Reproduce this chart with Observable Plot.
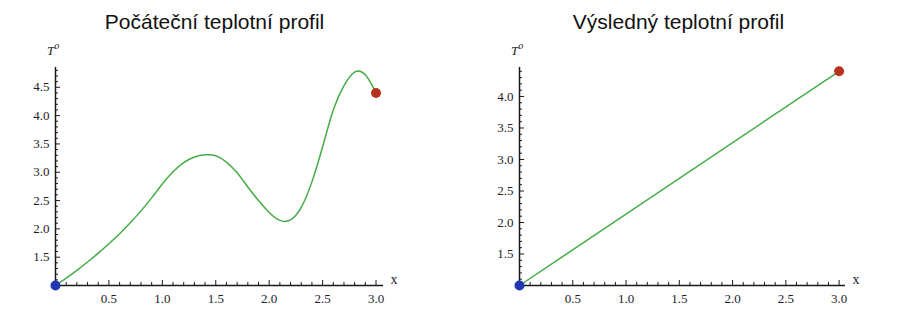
<!DOCTYPE html>
<html><head><meta charset="utf-8">
<script src="https://cdn.jsdelivr.net/npm/d3@7"></script>
<script src="https://cdn.jsdelivr.net/npm/@observablehq/plot@0.6"></script>
<style>
body{margin:0;background:#fff;}
#wrap{position:relative;width:900px;height:320px;overflow:hidden;background:#fff;}
.title{position:absolute;top:10px;line-height:24px;font-family:"Liberation Sans",Arial,sans-serif;font-size:21px;color:#111;transform:translateX(-50%);white-space:nowrap;}
.tlab{position:absolute;top:40px;font-family:"Liberation Serif","Times New Roman",serif;font-size:13px;font-style:italic;color:#222;line-height:14px;}
.tlab sup{font-size:10px;position:relative;top:-1px;}
.panel{position:absolute;top:40px;}
</style></head><body>
<div id="wrap">
  <div class="title" id="t0" style="left:214.5px"></div>
  <div class="title" id="t1" style="left:678.5px"></div>
  <div class="tlab" style="left:47px"><span>T</span><sup>o</sup></div>
  <div class="tlab" style="left:511px"><span>T</span><sup>o</sup></div>
  <div class="panel" id="p0" style="left:0px"></div>
  <div class="panel" id="p1" style="left:450px"></div>
</div>
<script>
// ---- data ----
const titles = ["Počáteční teplotní profil", "Výsledný teplotní profil"];
const initialX = [0, 0.1, 0.2, 0.3, 0.4, 0.5, 0.6, 0.7, 0.8, 0.9, 1.0, 1.1, 1.2, 1.3, 1.4, 1.5, 1.6, 1.7, 1.8, 1.9, 2.0, 2.1, 2.2, 2.3, 2.4, 2.5, 2.6, 2.7, 2.8, 2.9, 3.0];
const initialT = [1.000, 1.130, 1.268, 1.415, 1.571, 1.737, 1.915, 2.108, 2.318, 2.548, 2.793, 3.008, 3.168, 3.268, 3.308, 3.29, 3.18, 2.99, 2.74, 2.50, 2.29, 2.15, 2.16, 2.38, 2.83, 3.45, 4.10, 4.53, 4.77, 4.72, 4.40];
const finalX = [0, 3.0];
const finalT = [1.0, 4.4];
const xTickLabels = [0.5, 1.0, 1.5, 2.0, 2.5, 3.0];
const leftYTickLabels = [1.5, 2.0, 2.5, 3.0, 3.5, 4.0, 4.5];
const rightYTickLabels = [1.5, 2.0, 2.5, 3.0, 3.5, 4.0];

document.getElementById("t0").textContent = titles[0];
document.getElementById("t1").textContent = titles[1];

const GREEN = "#45ad45", BLUE = "#2238b0", RED = "#b8331e", AX = "#1a1a1a";

function panel({xs, ts, yTicks, xMax, yMax, marginLeft, marginRight, curve}) {
  const W = 450, H = 280, mt = 27, mb = 35;
  const innerW = W - marginLeft - marginRight, innerH = H - mt - mb;
  const data = xs.map((x, i) => ({x, t: ts[i]}));
  const minorX = d3.range(1, Math.floor(xMax * 10 + 1e-6) + 1).map(d => d / 10);
  const minorY = d3.range(11, Math.floor(yMax * 10 + 1e-6) + 1).map(d => d / 10);
  const isMajor = d => Math.abs(d * 2 - Math.round(d * 2)) < 1e-6;
  const fmt = d3.format(".1f");
  return Plot.plot({
    width: W, height: H, marginTop: mt, marginBottom: mb, marginLeft, marginRight,
    x: {domain: [0, xMax]},
    y: {domain: [1, yMax]},
    style: {background: "transparent", overflow: "visible"},
    marks: [
      Plot.axisX({ticks: xTickLabels, tickSize: 0, tickPadding: 8, tickFormat: fmt, label: null,
        fontFamily: "Liberation Serif, serif", fontSize: 13, fill: "#1c1c2c"}),
      Plot.axisY({ticks: yTicks, tickSize: 0, tickPadding: 6, tickFormat: fmt, label: null,
        fontFamily: "Liberation Serif, serif", fontSize: 13, fill: "#1c1c2c"}),
      Plot.tickX(minorX.filter(d => !isMajor(d)), {x: d => d, insetTop: innerH - 3, stroke: AX, strokeWidth: 1}),
      Plot.tickX(minorX.filter(isMajor), {x: d => d, insetTop: innerH - 5, stroke: AX, strokeWidth: 1}),
      Plot.tickY(minorY.filter(d => !isMajor(d)), {y: d => d, insetRight: innerW - 3, stroke: AX, strokeWidth: 1}),
      Plot.tickY(minorY.filter(isMajor), {y: d => d, insetRight: innerW - 5, stroke: AX, strokeWidth: 1}),
      Plot.ruleY([1], {stroke: AX, strokeWidth: 1.5}),
      Plot.ruleX([0], {stroke: AX, strokeWidth: 1.5}),
      Plot.text(["x"], {frameAnchor: "bottom-right", dx: 14, dy: -2, fontFamily: "Liberation Serif, serif", fontSize: 14, fill: "#1c1c2c"}),
      Plot.line(data, {x: "x", y: "t", curve, stroke: GREEN, strokeWidth: 1.5}),
      Plot.dot([data[0]], {x: "x", y: "t", r: 5, fill: BLUE, stroke: "none"}),
      Plot.dot([data[data.length - 1]], {x: "x", y: "t", r: 5, fill: RED, stroke: "none"})
    ]
  });
}

document.getElementById("p0").append(panel({xs: initialX, ts: initialT, yTicks: leftYTickLabels,
  xMax: 3.07, yMax: 4.85, marginLeft: 55, marginRight: 67, curve: "natural"}));
document.getElementById("p1").append(panel({xs: finalX, ts: finalT, yTicks: rightYTickLabels,
  xMax: 3.06, yMax: 4.46, marginLeft: 69, marginRight: 55, curve: "linear"}));
</script>
</body></html>
